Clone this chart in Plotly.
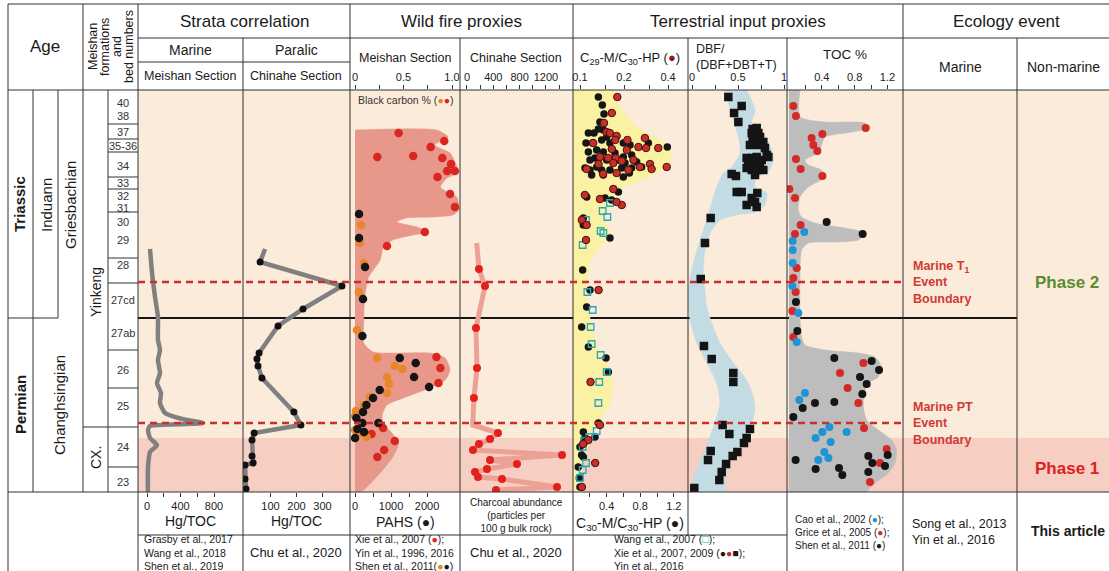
import plotly.graph_objects as go

W, H = 1109, 571
FONT = "Liberation Sans, Arial, Helvetica, sans-serif"

# ---------------- stratigraphic frame (relative height units, 0 = base, 402 = top) ----------------
H_TOP = 402
bed_labels = ["40", "38", "37", "35-36", "34", "33", "32", "31", "30", "29", "28",
              "27cd", "27ab", "26", "25", "24", "23"]
bed_label_h = [389, 376, 360, 346, 326, 309, 296, 284, 270, 252, 227, 192, 159, 122, 86, 45, 10]
bed_bounds_h = [368, 353, 340, 315, 303, 280, 234, 209, 142, 104, 65, 25]
pt_boundary_h = 174      # Permian / Triassic boundary
t1_event_h = 210         # Marine T1 event boundary
pt_event_h = 69          # Marine PT event boundary
phase1_top_h = 54        # top of phase 1 band
cx_top_h = 65            # top of Changxing Fm.

# ---------------- Strata correlation: Hg/TOC ----------------
mh_h = [243, 219, 195, 175, 165, 152, 142, 132, 119, 109, 99, 89, 79, 73, 69, 68, 66, 62, 54, 47, 40, 25, 0]
mh_v = [36, 60, 96, 131, 131, 131, 155, 131, 155, 119, 167, 155, 215, 418, 669, 454, 36, 12, 36, 119, 36, 12, 10]

ch_h = [243, 230, 206, 183, 166, 139, 133, 126, 114, 80, 67, 59, 52, 36, 29, 27, 13, 3]
ch_v = [79, 60, 375, 225, 129, 56, 48, 52, 67, 190, 217, 37, 29, 29, 33, 2, 2, 6]

# ---------------- Wild fire proxies, Meishan ----------------
wf_env_h = [362, 362, 355, 347, 339, 325, 319, 314, 305, 300, 295, 282, 277, 275, 274, 270, 265, 260, 257,
            252, 244, 232, 222, 215, 195, 169, 149, 140, 139, 134, 122, 112, 104, 94, 87, 77, 69, 59, 49,
            35, 19, 2, 0]
wf_env_v = [0, 0.84, 0.96, 0.82, 0.98, 1.05, 1.05, 0.95, 0.88, 0.95, 1.05, 1.07, 1.01, 0.81, 0.53, 0.43,
            0.64, 0.76, 0.60, 0.39, 0.29, 0.26, 0.19, 0.14, 0.10, 0.09, 0.09, 0.19, 0.77, 0.93, 0.98, 0.93,
            0.77, 0.50, 0.33, 0.28, 0.29, 0.38, 0.45, 0.39, 0.26, 0.09, 0.05]

bc_xie_h = [359, 351, 345, 335, 336, 334, 328, 321, 321, 315, 298, 285, 260, 246, 135, 124, 109, 64, 58, 51, 42, 35]
bc_xie_v = [0.45, 0.92, 0.78, 0.23, 0.60, 0.90, 0.99, 0.95, 1.03, 0.85, 0.98, 1.03, 0.72, 0.33, 0.84, 0.88,
            0.86, 0.29, 0.17, 0.41, 0.30, 0.23]

bc_shen_h = [267, 249, 229, 200, 162, 134, 126, 123, 115, 108, 99, 95, 87, 81, 76, 62, 59, 55]
bc_shen_v = [0.06, 0.05, 0.09, 0.04, 0.02, 0.23, 0.41, 0.49, 0.33, 0.35, 0.33, 0.15, 0.09, 0.01, 0.0, 0.0,
             0.05, 0.12]

pahs_h = [278, 254, 225, 193, 156, 134, 129, 115, 105, 102, 94, 87, 80, 74, 69, 69, 63, 60, 54]
pahs_v = [111, 111, 278, 222, 204, 1241, 1685, 1639, 2056, 685, 500, 315, 222, 37, 648, 204, 65, 250, 0]

# ---------------- Wild fire proxies, Chinahe charcoal ----------------
cc_h = [249, 223, 206, 164, 124, 94, 67, 59, 53, 48, 42, 37, 32, 28, 23, 20, 15, 13, 5, 2]
cc_v = [147, 182, 274, 137, 152, 106, 87, 471, 350, 182, 91, 1444, 350, 760, 304, 122, 167, 532, 1368, 441]
cc_sampled = [False, True, True, True, True, True, False, True, True, True, True, True, True, True, True,
              True, True, True, True, True]

# ---------------- Terrestrial input: C29-M/C30-HP & C30-M/C30-HP ----------------
c_env_h = [402, 385, 365, 352, 344, 329, 319, 310, 302, 289, 275, 262, 252, 242, 229, 202, 175, 149, 129,
           109, 89, 72, 59, 42, 19, 2, 0]
c_env_v = [0.476, 0.56, 0.758, 1.036, 1.155, 1.155, 0.996, 0.758, 0.56, 0.476, 0.357, 0.44, 0.40, 0.28,
           0.20, 0.163, 0.20, 0.28, 0.40, 0.476, 0.44, 0.32, 0.24, 0.163, 0.10, 0.083, 0.08]

c30_v = [0.302, 0.349, 0.369, 0.321, 0.361, 0.302, 0.183, 0.25, 0.401, 0.155, 0.234, 0.341, 0.44, 0.599,
         0.679, 0.897, 1.123, 0.183, 0.282, 0.361, 0.5, 0.599, 0.698, 0.202, 0.262, 0.401, 0.54, 0.619,
         0.758, 0.143, 0.202, 0.282, 0.341, 0.44, 0.579, 0.698, 0.817, 0.222, 0.361, 0.599, 0.671,
         0.163, 0.54, 0.381, 0.46, 0.123, 0.123, 0.44, 0.115, 0.202,
         0.163, 0.103, 0.183, 0.393, 0.421, 0.302, 0.262, 0.143, 0.083, 0.103, 0.123, 0.063, 0.075, 0.083,
         0.123]
c30_h = [395, 387, 378, 370, 362, 363, 359, 359, 355, 349, 349, 352, 349, 349, 347, 349, 345, 340, 342, 340,
         339, 335, 337, 332, 334, 332, 332, 329, 330, 324, 322, 325, 322, 322, 324, 324, 325, 317, 317, 315,
         319,
         295, 300, 294, 292, 274, 267, 254, 222, 202,
         185, 165, 145, 134, 120, 69, 55, 54, 45, 37, 35, 25, 14, 5, 60]

c29_v = [0.180, 0.165, 0.146, 0.152, 0.160, 0.178, 0.174, 0.211, 0.278, 0.123, 0.165, 0.209, 0.251, 0.283,
         0.343, 0.137, 0.156, 0.176, 0.193, 0.232, 0.301, 0.111, 0.134, 0.169, 0.214, 0.309, 0.392, 0.257,
         0.144, 0.178,
         0.169, 0.108, 0.137, 0.193, 0.178, 0.103, 0.111, 0.110, 0.134,
         0.118, 0.127, 0.137, 0.114, 0.105, 0.103]
c29_h = [395, 379, 369, 360, 359, 356, 352, 352, 354, 349, 343, 342, 345, 344, 344, 335, 334, 334, 331, 332,
         328, 323, 328, 329, 322, 323, 325, 325, 318, 319,
         303, 297, 293, 287, 290, 272, 267, 252, 202,
         110, 29, 67, 52, 48, 5]

wang_v = [0.44, 0.353, 0.409, 0.155, 0.329, 0.361, 0.115, 0.171, 0.234, 0.21, 0.222, 0.329, 0.401, 0.313,
          0.302, 0.282, 0.194, 0.131, 0.115, 0.155, 0.115, 0.083]
wang_h = [289, 281, 275, 272, 261, 259, 247, 200, 182, 165, 148, 137, 120, 110, 89, 61, 55, 51, 45, 29, 22, 14]

# ---------------- Terrestrial input: DBF/(DBF+DBT+T) ----------------
dbf_r_h = [402, 382, 369, 362, 342, 332, 320, 315, 305, 299, 287, 280, 277, 272, 259, 242, 222, 202, 185,
           169, 149, 129, 112, 95, 82, 69, 52, 35, 19, 2, 0]
dbf_r_v = [0.594, 0.685, 0.649, 0.757, 0.866, 0.884, 0.830, 0.703, 0.685, 0.812, 0.793, 0.685, 0.486, 0.304,
           0.196, 0.141, 0.123, 0.141, 0.16, 0.214, 0.304, 0.449, 0.594, 0.667, 0.685, 0.649, 0.558, 0.449,
           0.377, 0.359, 0.355]
dbf_l_h = [402, 389, 372, 355, 339, 325, 319, 305, 289, 272, 252, 229, 209, 189, 169, 149, 129, 109, 89, 75,
           55, 35, 15, 2, 0]
dbf_l_v = [0.348, 0.395, 0.449, 0.504, 0.522, 0.431, 0.341, 0.268, 0.214, 0.16, 0.087, 0.014, -0.029, -0.04,
           -0.014, 0.051, 0.16, 0.268, 0.304, 0.268, 0.196, 0.105, 0.014, -0.022, -0.025]

dbf_v = [0.395, 0.540, 0.457, 0.504, 0.659, 0.703, 0.649, 0.721, 0.659, 0.739, 0.775, 0.685, 0.630, 0.721,
         0.793, 0.812, 0.594, 0.649, 0.703, 0.758, 0.830, 0.612, 0.667, 0.739, 0.594, 0.649, 0.703, 0.775,
         0.685, 0.431, 0.478, 0.486, 0.540, 0.71, 0.649, 0.685, 0.594, 0.703, 0.203, 0.141, 0.095, 0.13,
         0.214, 0.449, 0.449, 0.333, 0.630, 0.406, 0.594, 0.565, 0.203, 0.493, 0.442, 0.174, 0.37, 0.323,
         0.297, 0.025]
dbf_h = [395, 386, 379, 370, 363, 364, 359, 359, 354, 355, 350, 349, 347, 347, 344, 337, 334, 334, 335, 332,
         335, 329, 328, 329, 324, 322, 322, 322, 317, 318, 316, 300, 300, 299, 294, 290, 287, 285, 274, 249,
         213, 146, 133, 119, 110, 67, 63, 58, 54, 49, 41, 40, 36, 32, 28, 20, 12, 4]

# ---------------- Terrestrial input: TOC % ----------------
toc_env_h = [402, 375, 370, 369, 364, 360, 355, 347, 339, 332, 327, 322, 315, 305, 295, 282, 275, 269, 264,
             259, 252, 250, 249, 242, 202, 175, 155, 147, 142, 139, 135, 125, 115, 109, 102, 85, 72, 62, 52,
             42, 29, 19, 9, 2, 0]
toc_env_v = [0.134, 0.134, 0.439, 0.927, 0.967, 0.764, 0.439, 0.398, 0.357, 0.195, 0.236, 0.398, 0.439,
             0.236, 0.134, 0.114, 0.154, 0.317, 0.683, 0.927, 0.846, 0.561, 0.236, 0.154, 0.134, 0.134, 0.154,
             0.195, 0.439, 0.846, 1.049, 1.13, 1.089, 0.967, 0.927, 0.907, 0.947, 1.089, 1.252, 1.313, 1.293,
             1.211, 1.049, 0.967, 0.95]

toc_grice_v = [0.053, 0.085, 0.935, 0.276, 0.407, 0.297, 0.346, 0.085, 0.142, 0.407, 0.004, 0.073, 0.142,
               0.073, 0.094, 0.053, 0.081, 0.041, 0.053, 0.907, 0.622, 0.715, 0.846, 0.915, 1.191, 1.110, 0.988]
toc_grice_h = [386, 376, 364, 354, 358, 347, 341, 333, 323, 316, 303, 294, 267, 258, 224, 214, 200, 181, 155,
               129, 119, 104, 89, 64, 43, 29, 10]
toc_cao_v = [0.187, 0.045, 0.045, 0.045, 0.041, 0.114, 0.094, 0.195, 0.126, 0.492, 0.407, 0.703, 0.325,
             0.508, 0.431, 0.358, 0.480]
toc_cao_h = [260, 251, 242, 229, 206, 179, 150, 99, 92, 65, 60, 60, 54, 50, 40, 32, 34]
toc_shen_v = [0.459, 0.898, 0.085, 0.102, 0.553, 1.008, 1.098, 0.866, 0.947, 0.894, 0.317, 0.553, 0.167,
              0.053, 0.967, 1.016, 1.171, 0.081, 0.325, 0.61, 0.65, 0.967, 1.203]
toc_shen_h = [270, 258, 190, 161, 134, 131, 122, 115, 108, 98, 89, 90, 84, 75, 36, 29, 26, 32, 23, 24, 17, 20, 37]


# ======================================================================================
def X(p):
    return p / W


def Y(p):
    return 1 - p / H


COLS = {"mh": (138, 243), "ch": (243, 350), "wf": (350, 460), "cc": (460, 573),
        "c29": (573, 688), "dbf": (688, 787), "toc": (787, 903)}


def dom(k):
    a, b = COLS[k]
    return [X(a), X(b)]


fig = go.Figure()

# strata correlation
fig.add_trace(go.Scatter(x=mh_v, y=mh_h, xaxis="x", yaxis="y", mode="lines",
                         line=dict(color="#808080", width=4.5, shape="spline", smoothing=0.5)))
fig.add_trace(go.Scatter(x=ch_v, y=ch_h, xaxis="x2", yaxis="y", mode="lines",
                         line=dict(color="#808080", width=4.5)))
fig.add_trace(go.Scatter(x=ch_v[1:], y=ch_h[1:], xaxis="x2", yaxis="y", mode="markers",
                         marker=dict(color="#111111", size=7)))

# wild fire Meishan
fig.add_trace(go.Scatter(x=wf_env_v, y=wf_env_h, xaxis="x3", yaxis="y", mode="lines", fill="tozerox",
                         fillcolor="#E8978B", line=dict(color="#E8978B", width=0.5, shape="spline",
                                                        smoothing=0.6)))
fig.add_trace(go.Scatter(x=bc_xie_v, y=bc_xie_h, xaxis="x3", yaxis="y", mode="markers",
                         marker=dict(color="#D9261F", size=8.5)))
fig.add_trace(go.Scatter(x=bc_shen_v, y=bc_shen_h, xaxis="x3", yaxis="y", mode="markers",
                         marker=dict(color="#E8862A", size=8.5)))
fig.add_trace(go.Scatter(x=pahs_v, y=pahs_h, xaxis="x4", yaxis="y", mode="markers",
                         marker=dict(color="#151515", size=8.5)))

# charcoal Chinahe
fig.add_trace(go.Scatter(x=cc_v, y=cc_h, xaxis="x5", yaxis="y", mode="lines",
                         line=dict(color="#EDA196", width=5)))
fig.add_trace(go.Scatter(x=[v for v, s in zip(cc_v, cc_sampled) if s],
                         y=[h for h, s in zip(cc_h, cc_sampled) if s],
                         xaxis="x5", yaxis="y", mode="markers", marker=dict(color="#E3211C", size=8)))

# C29 / C30 hopanes  (x7 = C30 linear base axis, x6 = C29 log overlay)
fig.add_trace(go.Scatter(x=c_env_v, y=c_env_h, xaxis="x7", yaxis="y", mode="lines", fill="tozerox",
                         fillcolor="#FAF1A3", line=dict(color="#FAF1A3", width=0.5, shape="spline",
                                                        smoothing=0.6)))
fig.add_trace(go.Scatter(x=c30_v, y=c30_h, xaxis="x7", yaxis="y", mode="markers",
                         marker=dict(color="#161616", size=7.5)))
fig.add_trace(go.Scatter(x=wang_v, y=wang_h, xaxis="x7", yaxis="y", mode="markers",
                         marker=dict(symbol="square-open", color="#2AA8BA", size=6.5,
                                     line=dict(width=1.3, color="#2AA8BA"))))
fig.add_trace(go.Scatter(x=c29_v, y=c29_h, xaxis="x6", yaxis="y", mode="markers",
                         marker=dict(color="#C7302A", size=7.5, line=dict(color="#4A0E0E", width=1))))

# DBF
fig.add_trace(go.Scatter(x=dbf_r_v + dbf_l_v[::-1], y=dbf_r_h + dbf_l_h[::-1], xaxis="x8", yaxis="y",
                         mode="lines", fill="toself", fillcolor="#C3DBE2",
                         line=dict(color="#C3DBE2", width=0.5, shape="spline", smoothing=0.6)))
fig.add_trace(go.Scatter(x=dbf_v, y=dbf_h, xaxis="x8", yaxis="y", mode="markers",
                         marker=dict(symbol="square", color="#141414", size=8.5)))

# TOC
fig.add_trace(go.Scatter(x=toc_env_v, y=toc_env_h, xaxis="x9", yaxis="y", mode="lines", fill="tozerox",
                         fillcolor="#BDBDBD", line=dict(color="#BDBDBD", width=0.5, shape="spline",
                                                        smoothing=0.6)))
fig.add_trace(go.Scatter(x=toc_grice_v, y=toc_grice_h, xaxis="x9", yaxis="y", mode="markers",
                         marker=dict(color="#D42A25", size=8)))
fig.add_trace(go.Scatter(x=toc_cao_v, y=toc_cao_h, xaxis="x9", yaxis="y", mode="markers",
                         marker=dict(color="#2093D6", size=8)))
fig.add_trace(go.Scatter(x=toc_shen_v, y=toc_shen_h, xaxis="x9", yaxis="y", mode="markers",
                         marker=dict(color="#151515", size=8)))

# ---------------- axes ----------------
ax = dict(showgrid=False, zeroline=False, showline=False, ticks="outside", ticklen=4, tickwidth=1,
          tickcolor="#333333", tickfont=dict(size=11, color="#222222", family=FONT), anchor="y",
          fixedrange=True)
layout_axes = dict(
    xaxis=dict(domain=dom("mh"), range=[-107.5, 1146.3], side="bottom",
               tickvals=[0, 200, 400, 600, 800], ticktext=["0", "", "400", "", "800"], **ax),
    xaxis2=dict(domain=dom("ch"), range=[-5.8, 405.8], side="bottom",
                tickvals=[100, 200, 300], ticktext=["100", "200", "300"], **ax),
    xaxis3=dict(domain=dom("wf"), range=[-0.0515, 1.0825], side="top",
                tickvals=[0, 0.25, 0.5, 0.75, 1.0], ticktext=["0", "", "0.5", "", "1.0"], **ax),
    xaxis4=dict(domain=dom("wf"), range=[-140, 2915], side="bottom", overlaying="x3",
                tickvals=[0, 500, 1000, 1500, 2000], ticktext=["0", "", "1000", "", "2000"], **ax),
    xaxis5=dict(domain=dom("cc"), range=[-106, 1611], side="top",
                tickvals=[0, 200, 400, 600, 800, 1000, 1200, 1400],
                ticktext=["0", "", "400", "", "800", "", "1200", ""], **ax),
    xaxis6=dict(domain=dom("c29"), type="log", range=[-1.0479, -0.2613], side="top", overlaying="x7",
                tickvals=[0.1, 0.15, 0.2, 0.3, 0.4], ticktext=["0.1", "", "0.2", "", "0.4"], **ax),
    xaxis7=dict(domain=dom("c29"), range=[0, 1.369], side="bottom",
                tickvals=[0.2, 0.4, 0.6, 0.8, 1.0, 1.2], ticktext=["", "0.4", "", "0.8", "", "1.2"], **ax),
    xaxis8=dict(domain=dom("dbf"), range=[-0.0435, 1.0326], side="top",
                tickvals=[0, 0.25, 0.5, 0.75, 1.0], ticktext=["0", "", "0.5", "", "1"], **ax),
    xaxis9=dict(domain=dom("toc"), range=[-0.024, 1.39], side="top",
                tickvals=[0.2, 0.4, 0.6, 0.8, 1.0, 1.2], ticktext=["", "0.4", "", "0.8", "", "1.2"], **ax),
    yaxis=dict(domain=[Y(492), Y(90)], range=[0, H_TOP], showgrid=False, zeroline=False, showline=False,
               showticklabels=False, ticks="", fixedrange=True),
)

# ---------------- shapes ----------------
shapes = []
# backgrounds
shapes.append(dict(type="rect", xref="paper", yref="y", x0=X(138), x1=1, y0=0, y1=H_TOP,
                   fillcolor="#FBEBDA", line=dict(width=0), layer="below"))
shapes.append(dict(type="rect", xref="paper", yref="y", x0=X(138), x1=1, y0=0, y1=phase1_top_h,
                   fillcolor="#F6CEC2", line=dict(width=0), layer="below"))
# P/T boundary
shapes.append(dict(type="line", xref="paper", yref="y", x0=X(138), x1=X(1017), y0=pt_boundary_h,
                   y1=pt_boundary_h, line=dict(color="#151515", width=2.2), layer="below"))

LC = "#333333"


def hline(py, a, b, w=1):
    shapes.append(dict(type="line", xref="paper", yref="paper", x0=X(a), x1=X(b), y0=Y(py), y1=Y(py),
                       line=dict(color=LC, width=w)))


def vline(px, a, b, w=1):
    shapes.append(dict(type="line", xref="paper", yref="paper", x0=X(px), x1=X(px), y0=Y(a), y1=Y(b),
                       line=dict(color=LC, width=w)))


for py, a, b in [(4, 8, 1109), (38, 138, 1109), (62, 138, 350), (90, 8, 1109), (492, 8, 1109),
                 (535, 138, 787)]:
    hline(py, a, b)
for px, a, b in [(8, 4, 571), (33, 90, 492), (83, 4, 492), (108, 90, 492), (138, 4, 571), (243, 38, 571),
                 (350, 4, 571), (460, 38, 571), (573, 4, 571), (688, 38, 535), (787, 38, 571),
                 (903, 4, 571), (1017, 38, 571)]:
    vline(px, a, b)
# age-column internal boundaries
shapes.append(dict(type="line", xref="paper", yref="y", x0=X(58), x1=X(58), y0=pt_boundary_h, y1=H_TOP,
                   line=dict(color=LC, width=1)))
shapes.append(dict(type="line", xref="paper", yref="y", x0=X(8), x1=X(58), y0=pt_boundary_h,
                   y1=pt_boundary_h, line=dict(color=LC, width=1)))
shapes.append(dict(type="line", xref="paper", yref="y", x0=X(83), x1=X(108), y0=cx_top_h, y1=cx_top_h,
                   line=dict(color=LC, width=1)))
for hb in bed_bounds_h:
    shapes.append(dict(type="line", xref="paper", yref="y", x0=X(108), x1=X(138), y0=hb, y1=hb,
                       line=dict(color=LC, width=1)))
# event boundaries (dashed)
for he in [t1_event_h, pt_event_h]:
    shapes.append(dict(type="line", xref="paper", yref="y", x0=X(138), x1=X(906), y0=he, y1=he,
                       line=dict(color="#C9302C", width=2.5, dash="7px,5px")))

# ---------------- annotations ----------------
ann = []


def txt(x, y, s, size=12, color="#1a1a1a", bold=False, xanchor="center", align="center", angle=0,
        yref="paper"):
    if bold:
        s = "<b>" + s + "</b>"
    ann.append(dict(x=X(x), y=(Y(y) if yref == "paper" else y), xref="paper", yref=yref, text=s,
                    showarrow=False, font=dict(size=size, color=color, family=FONT), xanchor=xanchor,
                    yanchor="middle", align=align, textangle=angle))


# header
txt(45, 46, "Age", 17)
for xx, s in zip([93, 105, 117, 129], ["Meishan", "formations", "and", "bed numbers"]):
    txt(xx, 47, s, 12.5, angle=-90)
txt(244, 21, "Strata correlation", 17)
txt(461, 21, "Wild fire proxies", 17)
txt(738, 21, "Terrestrial input proxies", 17)
txt(1006, 21, "Ecology event", 17)
txt(190, 50, "Marine", 14)
txt(296, 50, "Paralic", 14)
txt(190, 76, "Meishan Section", 12.5)
txt(296, 76, "Chinahe Section", 12.5)
txt(405, 58, "Meishan Section", 12.5)
txt(516, 58, "Chinahe Section", 12.5)
txt(630, 58, "C<sub>29</sub>-M/C<sub>30</sub>-HP (<span style='color:#8B1A1A'>●</span>)", 13)
txt(694, 57, "DBF/<br>(DBF+DBT+T)", 12.5, xanchor="left", align="left")
txt(845, 55, "TOC %", 13.5)
txt(960, 67, "Marine", 14)
txt(1063, 67, "Non-marine", 14)
txt(356, 100, "Black carbon % (<span style='color:#E8862A'>●</span><span style='color:#D9261F'>●</span>)",
    10.5, color="#333333", xanchor="left", align="left")

# age column
txt(20, 204, "Triassic", 15, bold=True, angle=-90)
txt(20, 405, "Permian", 15, bold=True, angle=-90)
txt(46, 205, "Induann", 15, angle=-90)
txt(70, 205, "Griesbachian", 15, angle=-90)
txt(59, 405, "Changhsingian", 15, angle=-90)
txt(96, 292, "Yinkeng", 14, angle=-90)
txt(96, 458, "CX.", 14, angle=-90)
for lab, hl in zip(bed_labels, bed_label_h):
    txt(123, hl, lab, 11, color="#333333", yref="y")

# ecology
txt(911, 282, "Marine T<sub>1</sub><br>Event<br>Boundary", 12.5, color="#D03A33", bold=True,
    xanchor="left", align="left")
txt(911, 423, "Marine PT<br>Event<br>Boundary", 12.5, color="#D03A33", bold=True, xanchor="left",
    align="left")
txt(1067, 282, "Phase 2", 17, color="#5A8C32", bold=True)
txt(1067, 468, "Phase 1", 17, color="#E0201E", bold=True)

# bottom labels
txt(190, 521, "Hg/TOC", 14)
txt(296, 521, "Hg/TOC", 14)
txt(405, 522, "PAHS (●)", 14)
txt(516, 515, "Charcoal abundance<br>(particles per<br>100 g bulk rock)", 10)
txt(630, 524, "C<sub>30</sub>-M/C<sub>30</sub>-HP (●)", 14)
txt(142, 552, "Grasby et al., 2017<br>Wang et al., 2018<br>Shen et al., 2019", 10.5, xanchor="left",
    align="left")
txt(296, 552, "Chu et al., 2020", 13)
txt(353, 552, "Xie et al., 2007 (<span style='color:#D9261F'>●</span>);<br>Yin et al., 1996, 2016<br>"
              "Shen et al., 2011(<span style='color:#E8862A'>●</span>●)", 10.5, xanchor="left",
    align="left")
txt(516, 552, "Chu et al., 2020", 13)
txt(612, 552, "Wang et al., 2007 (<span style='color:#2AA8BA'>□</span>);<br>Xie et al., 2007, 2009 "
              "(●<span style='color:#C7302A'>●</span>■);<br>Yin et al., 2016", 10.5, xanchor="left",
    align="left")
txt(793, 532, "Cao et al., 2002 (<span style='color:#2093D6'>●</span>);<br>Grice et al., 2005 "
              "(<span style='color:#D42A25'>●</span>);<br>Shen et al., 2011 (●)", 10, xanchor="left",
    align="left")
txt(910, 532, "Song et al., 2013<br>Yin et al., 2016", 12.5, xanchor="left", align="left")
txt(1068, 531, "This article", 14, bold=True)

fig.update_layout(
    width=W, height=H, margin=dict(l=0, r=0, t=0, b=0), paper_bgcolor="white",
    plot_bgcolor="rgba(0,0,0,0)", showlegend=False, shapes=shapes, annotations=ann,
    font=dict(family=FONT, color="#1a1a1a"), **layout_axes)

fig.write_html("out.html", config={"displayModeBar": False},
               post_script="document.body.style.margin='0px';document.body.style.overflow='hidden';")
